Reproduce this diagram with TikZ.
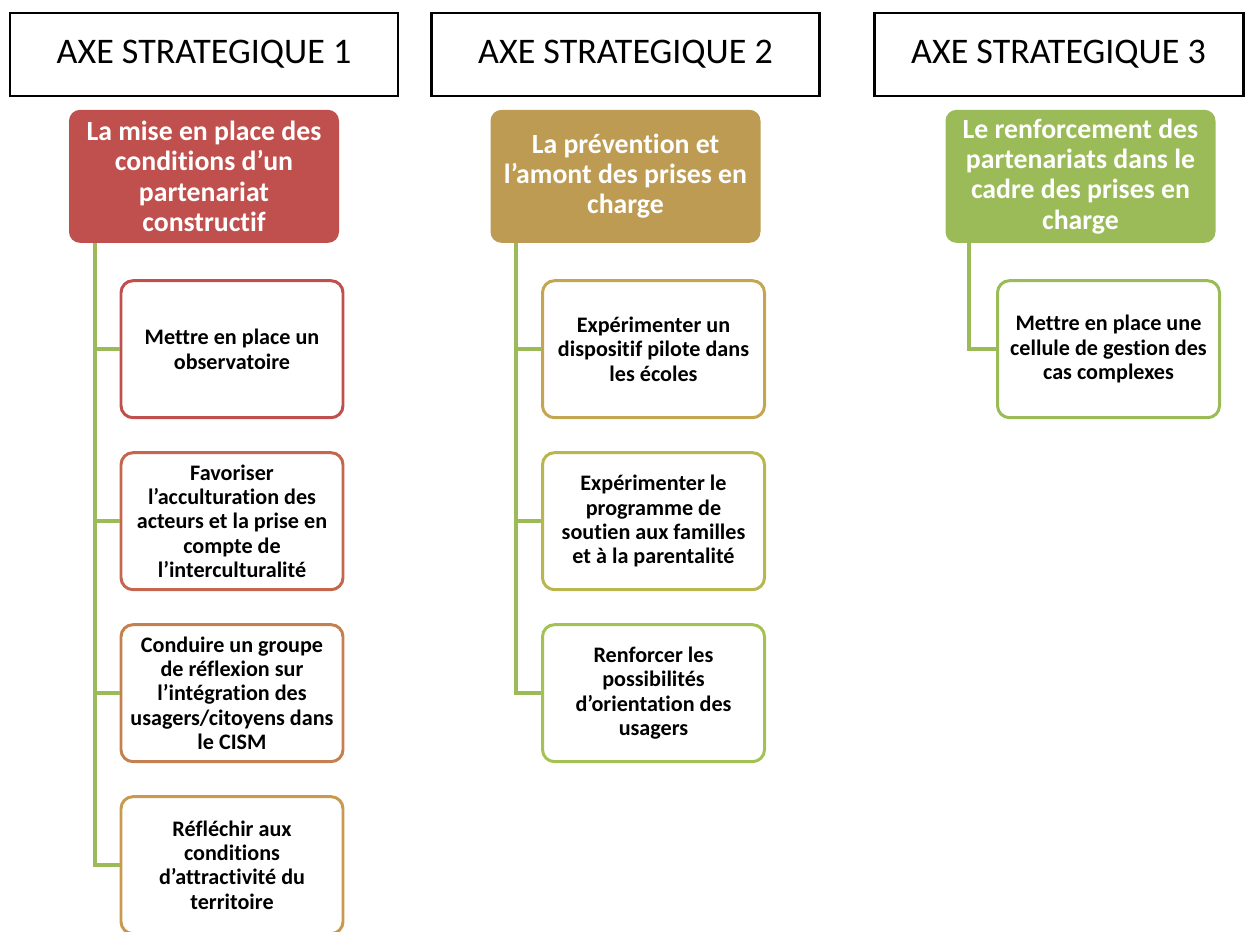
\documentclass[tikz,border=0pt]{standalone}
\usepackage{fontspec}
\setmainfont[Ligatures=NoCommon]{Carlito}
\usetikzlibrary{positioning}
\definecolor{thred}{HTML}{C0504D}
\definecolor{thgold}{HTML}{BE9B52}
\definecolor{thgreen}{HTML}{9BBB59}
\definecolor{bdA}{HTML}{C0504D}
\definecolor{bdB}{HTML}{C5664E}
\definecolor{bdC}{HTML}{C5804F}
\definecolor{bdD}{HTML}{C89A4F}
\definecolor{bdE}{HTML}{C4A652}
\definecolor{bdF}{HTML}{B9B650}
\definecolor{bdG}{HTML}{A4C253}
\tikzstyle{axe} = [rectangle, draw=black, line width=1.7pt, minimum width=7.76cm, minimum height=1.66cm, font=\fontsize{20.5}{24}\selectfont]
\tikzstyle{theme} = [rectangle, rounded corners=0.22cm, minimum width=5.4cm, minimum height=2.66cm, inner sep=2pt, text=white, align=center, font=\bfseries\fontsize{15.8}{17.2}\selectfont]
\tikzstyle{action} = [rectangle, rounded corners=0.24cm, draw, line width=1.7pt, fill=white, minimum width=4.44cm, minimum height=2.74cm, inner sep=2pt, align=center, font=\bfseries\fontsize{12.6}{13.8}\selectfont]
\tikzstyle{branch} = [line width=2.3pt, draw=thgreen]

\begin{document}
\begin{tikzpicture}

\useasboundingbox (0,0) rectangle (25,-18.62);

\node[axe] (ax1) at (4.08,-1.09) {AXE STRATEGIQUE 1};
\node[axe] (ax2) at (12.51,-1.09) {AXE STRATEGIQUE 2};
\node[axe, minimum width=7.38cm] (ax3) at (21.17,-1.09) {AXE STRATEGIQUE 3};

\node[theme, fill=thred, below = 0.24cm of ax1] (th1) {La mise en place des\\conditions d’un\\partenariat\\constructif};
\node[theme, fill=thgold, below = 0.24cm of ax2] (th2) {La prévention et\\l’amont des prises en\\charge};
\node[theme, fill=thgreen, below = 0.24cm of ax3, xshift=0.44cm] (th3) {Le renforcement des\\partenariats dans le\\cadre des prises en\\charge};

\node[action, draw=bdA, below = 0.72cm of th1, xshift=0.56cm] (a11) {Mettre en place un\\observatoire};
\node[action, draw=bdB, below = 0.64cm of a11] (a12) {Favoriser\\l’acculturation des\\acteurs et la prise en\\compte de\\l’interculturalité};
\node[action, draw=bdC, below = 0.64cm of a12] (a13) {Conduire un groupe\\de réflexion sur\\l’intégration des\\usagers/citoyens dans\\le CISM};
\node[action, draw=bdD, below = 0.64cm of a13] (a14) {Réfléchir aux\\conditions\\d’attractivité du\\territoire};

\node[action, draw=bdE, below = 0.72cm of th2, xshift=0.56cm] (a21) {Expérimenter un\\dispositif pilote dans\\les écoles};
\node[action, draw=bdF, below = 0.64cm of a21] (a22) {Expérimenter le\\programme de\\soutien aux familles\\et à la parentalité};
\node[action, draw=bdG, below = 0.64cm of a22] (a23) {Renforcer les\\possibilités\\d’orientation des\\usagers};

\node[action, draw=thgreen, below = 0.72cm of th3, xshift=0.56cm] (a31) {Mettre en place une\\cellule de gestion des\\cas complexes};

\coordinate (t1) at ([xshift=0.52cm]th1.south west);
\coordinate (t2) at ([xshift=0.52cm]th2.south west);
\coordinate (t3) at ([xshift=0.48cm]th3.south west);

\draw[branch] (t1) |- (a11.west);
\draw[branch] (t1) |- (a12.west);
\draw[branch] (t1) |- (a13.west);
\draw[branch] (t1) |- (a14.west);
\draw[branch] (t2) |- (a21.west);
\draw[branch] (t2) |- (a22.west);
\draw[branch] (t2) |- (a23.west);
\draw[branch] (t3) |- (a31.west);

\end{tikzpicture}
\end{document}
